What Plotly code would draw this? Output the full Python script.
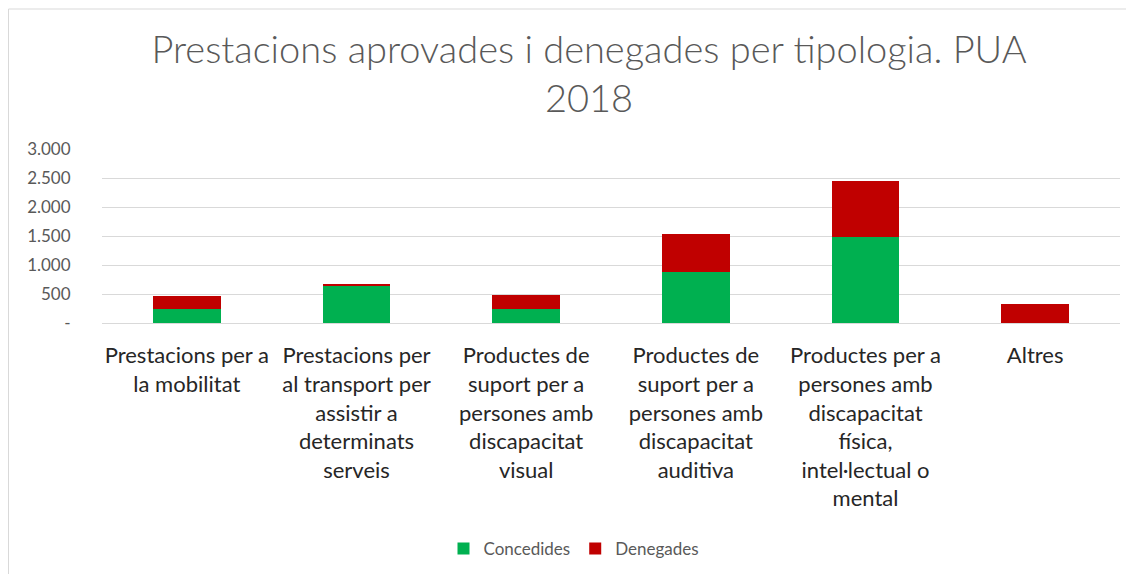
import plotly.graph_objects as go

categories = [
    "Prestacions per a<br>la mobilitat",
    "Prestacions per<br>al transport per<br>assistir a<br>determinats<br>serveis",
    "Productes de<br>suport per a<br>persones amb<br>discapacitat<br>visual",
    "Productes de<br>suport per a<br>persones amb<br>discapacitat<br>auditiva",
    "Productes per a<br>persones amb<br>discapacitat<br>física,<br>intel·lectual o<br>mental",
    "Altres",
]
concedides = [235, 642, 241, 871, 1476, 8]
denegades = [225, 34, 241, 666, 968, 312]

y_tickvals = [0, 500, 1000, 1500, 2000, 2500, 3000]
y_ticktext = ["-", "500", "1.000", "1.500", "2.000", "2.500", "3.000"]

W, H = 1134, 574
OFF = 8  # page body offset
# plot area in screen pixels
SL, SR, ST, SB = 102, 1120, 149, 323
ML = SL - OFF
MT = ST - OFF
MR = W - (SR - OFF)
MB = H - (SB - OFF)
PW = SR - SL
PH = SB - ST

fig = go.Figure()
fig.add_trace(go.Bar(name="Concedides", x=categories, y=concedides,
                     marker=dict(color="#00B050", line=dict(width=0))))
fig.add_trace(go.Bar(name="Denegades", x=categories, y=denegades,
                     marker=dict(color="#C00000", line=dict(width=0))))

def px_x(p):
    return (p - SL) / PW

def px_y(p):
    return (SB - p) / PH

fig.update_layout(
    width=W, height=H,
    barmode="stack",
    bargap=0.6,
    paper_bgcolor="white",
    plot_bgcolor="white",
    margin=dict(l=ML, r=MR, t=MT, b=MB, pad=0),
    font=dict(family="Lato, Carlito, sans-serif", color="#595959"),
    title=dict(
        text="Prestacions aprovades i denegades per tipologia. PUA<br>2018",
        font=dict(family="Lato, sans-serif", size=38, color="#595959", weight=300),
        x=581 / W, xref="container", xanchor="center",
        y=1 - 55 / H, yref="container", yanchor="middle",
    ),
    showlegend=True,
    legend=dict(
        orientation="h",
        x=px_x(574), xanchor="center",
        y=px_y(549), yanchor="middle",
        font=dict(size=17, color="#595959"),
        traceorder="normal",
        itemwidth=30,
    ),
    shapes=[dict(type="rect", xref="paper", yref="paper",
                 x0=px_x(8.5), x1=px_x(1180), y0=px_y(600), y1=px_y(9),
                 line=dict(color="#D9D9D9", width=1), layer="below")],
)

fig.update_xaxes(
    tickfont=dict(size=22, color="#262626"),
    showgrid=False,
    showline=True, linecolor="#D9D9D9", linewidth=1,
    ticks="outside", ticklen=13, tickcolor="rgba(0,0,0,0)", tickangle=0,
)
fig.update_yaxes(
    range=[0, 3000],
    tickvals=y_tickvals, ticktext=y_ticktext,
    tickfont=dict(size=17, color="#595959"),
    showgrid=True, gridcolor="#D9D9D9", gridwidth=1,
    zeroline=False, showline=False,
    ticks="outside", ticklen=27, tickcolor="rgba(0,0,0,0)",
)

fig.write_html("out.html")
